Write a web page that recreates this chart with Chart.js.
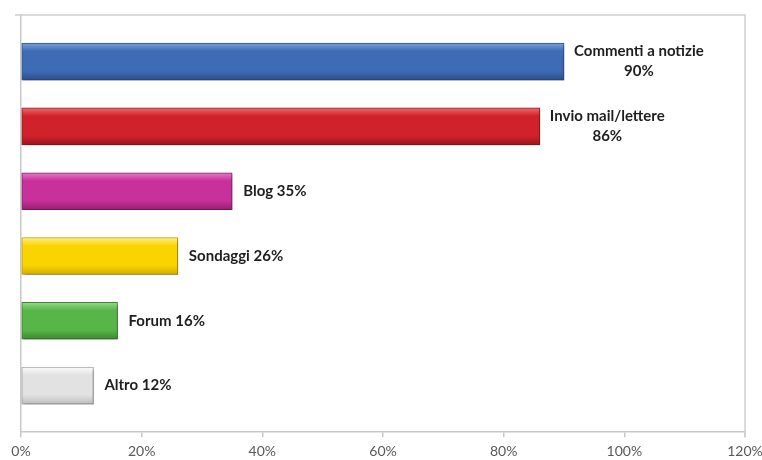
<!DOCTYPE html>
<html>
<head>
<meta charset="utf-8">
<script src="https://cdn.jsdelivr.net/npm/chart.js@4.4.0/dist/chart.umd.min.js"></script>
<style>
  body { margin: 0; background: #fff; }
  #wrap { width: 762px; height: 460px; }
</style>
</head>
<body>
<div id="wrap"><canvas id="myChart" width="762" height="460"></canvas></div>
<script>
let categories = ['Commenti a notizie', 'Invio mail/lettere', 'Blog', 'Sondaggi', 'Forum', 'Altro'];
let values = [90, 86, 35, 26, 16, 12];
let xTicks = [0, 20, 40, 60, 80, 100, 120];

// light / mid / dark shade for each bar, top to bottom
let shades = [
    ['#7aa0d8', '#3d6cb4', '#2a4f88'],
    ['#ec6a6d', '#d0222a', '#9c161c'],
    ['#e27cc6', '#c8309b', '#96206f'],
    ['#fff08a', '#fad400', '#d4ad00'],
    ['#98d98a', '#58b547', '#3b8a2e'],
    ['#fbfbfb', '#e2e2e2', '#bdbdbd']
];
let edges = ['#2c5290', '#a0191e', '#8e1f6c', '#c9a300', '#3d8a30', '#a8a8a8'];

const BAR_H = 37;

function barFill(ctx) {
    let chart = ctx.chart;
    let y = chart.scales.y;
    let s = shades[ctx.dataIndex] || shades[0];
    if (!y) return s[1];
    let mid = y.getPixelForValue(ctx.dataIndex);
    if (!isFinite(mid)) return s[1];
    let g = chart.ctx.createLinearGradient(0, mid - BAR_H / 2, 0, mid + BAR_H / 2);
    g.addColorStop(0, s[0]);
    g.addColorStop(0.22, s[1]);
    g.addColorStop(0.75, s[1]);
    g.addColorStop(1, s[2]);
    return g;
}

// soft drop shadow under the bars
let shadowPlugin = {
    id: 'barShadow',
    beforeDatasetsDraw(chart) {
        let c = chart.ctx;
        c.save();
        c.shadowColor = 'rgba(0,0,0,0.35)';
        c.shadowBlur = 3;
        c.shadowOffsetX = 2;
        c.shadowOffsetY = 2;
    },
    afterDatasetsDraw(chart) {
        chart.ctx.restore();
    }
};

// top and right edges of the plot frame
let framePlugin = {
    id: 'frame',
    beforeDatasetsDraw(chart) {
        let a = chart.chartArea;
        let c = chart.ctx;
        c.save();
        c.strokeStyle = '#cfcfcf';
        c.lineWidth = 1.5;
        c.beginPath();
        c.moveTo(a.left - 6, a.top);
        c.lineTo(a.right, a.top);
        c.lineTo(a.right, a.bottom + 5);
        c.stroke();
        c.restore();
    }
};

// category name + value next to each bar
let labelPlugin = {
    id: 'barLabels',
    afterDatasetsDraw(chart) {
        let c = chart.ctx;
        let meta = chart.getDatasetMeta(0);
        c.save();
        c.font = 'bold 15px Lato, "DejaVu Sans", sans-serif';
        c.fillStyle = '#1e1e1e';
        c.textBaseline = 'middle';
        meta.data.forEach((bar, i) => {
            let v = values[i] + '%';
            if (values[i] > 50) {
                let w = c.measureText(categories[i]).width;
                let cx = bar.x + 10 + w / 2;
                c.textAlign = 'center';
                c.fillText(categories[i], cx, bar.y - 10);
                c.fillText(v, cx, bar.y + 10);
            } else {
                c.textAlign = 'left';
                c.fillText(categories[i] + ' ' + v, bar.x + 11, bar.y);
            }
        });
        c.restore();
    }
};

let chart1 = new Chart(document.getElementById('myChart').getContext('2d'), {
    type: 'bar',
    data: {
        datasets: [{
            data: values.map((v, i) => ({ x: v, y: i })),
            backgroundColor: barFill,
            borderColor: edges,
            borderWidth: 1,
            borderSkipped: false,
            barThickness: BAR_H
        }]
    },
    options: {
        indexAxis: 'y',
        responsive: false,
        animation: false,
        layout: { padding: { left: 21, top: 15, right: 17, bottom: -6 } },
        plugins: {
            legend: { display: false },
            tooltip: { enabled: false }
        },
        scales: {
            x: {
                type: 'linear',
                min: 0,
                max: 120,
                afterBuildTicks: scale => { scale.ticks = xTicks.map(v => ({ value: v })); },
                // let the last tick label hang into the right margin
                afterFit: scale => { scale.paddingRight = 0; scale.paddingLeft = 0; },
                ticks: {
                    callback: v => v + '%',
                    color: '#595959',
                    padding: 6,
                    maxRotation: 0,
                    font: { family: 'Lato, "DejaVu Sans", sans-serif', size: 14 }
                },
                grid: {
                    drawOnChartArea: false,
                    drawTicks: true,
                    tickLength: 5,
                    color: '#c8c8c8',
                    lineWidth: 1.5
                },
                border: { display: true, color: '#c8c8c8', width: 1.5 }
            },
            y: {
                type: 'linear',
                reverse: true,
                offset: false,
                min: -0.72,
                max: 5.72,
                ticks: { display: false },
                grid: { display: false, drawTicks: false, offset: false },
                border: { display: true, color: '#c8c8c8', width: 1.5 }
            }
        }
    },
    plugins: [framePlugin, shadowPlugin, labelPlugin]
});
</script>
</body>
</html>
